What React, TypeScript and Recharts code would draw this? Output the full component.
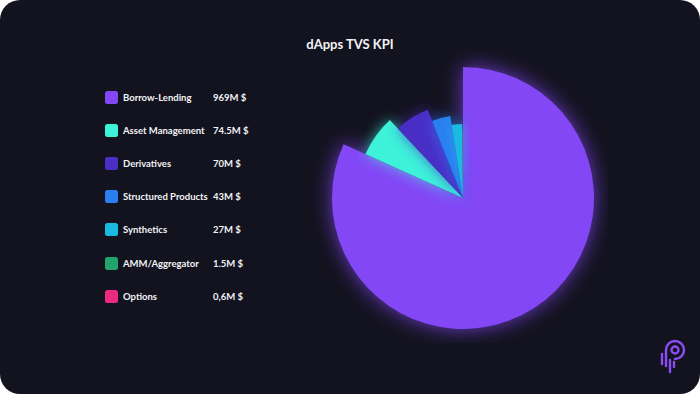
import React from "react";
import { PieChart, Pie, Cell, Sector } from "recharts";

const categories = [
  "Borrow-Lending",
  "Asset Management",
  "Derivatives",
  "Structured Products",
  "Synthetics",
  "AMM/Aggregator",
  "Options",
];
const tvs = [969, 74.5, 70, 43, 27, 1.5, 0.6];
const valueLabels = ["969M $", "74.5M $", "70M $", "43M $", "27M $", "1.5M $", "0,6M $"];

const COLORS = ["#8347f6", "#3cf2d9", "#4a2fc6", "#2a7ff1", "#1ab9e2", "#22a36c", "#ec2a80"];
// each slice is drawn a bit shorter than the previous one
const RADII = [131, 107, 95, 83, 74, 68, 64];

const data = categories.map((name, i) => ({ name, value: tvs[i] }));

const renderSlice = (props: any) => {
  const i = props.index ?? 0;
  return (
    <Sector
      {...props}
      innerRadius={0}
      outerRadius={RADII[i]}
      stroke="none"
      filter={i === 0 ? "url(#glowBig)" : "url(#glowSmall)"}
    />
  );
};

const Logo = () => (
  <svg width={34} height={40} viewBox="0 0 34 40" style={{ position: "absolute", left: 654, top: 336 }}>
    <g fill="none" stroke="#8a4cf5" strokeWidth={2.4} strokeLinecap="round">
      <path d="M12 30 V14 a9 9 0 1 1 9 9" />
      <circle cx={21} cy={14} r={3.5} />
      <line x1={8} y1={18} x2={8} y2={28} />
      <line x1={16} y1={24} x2={16} y2={36} />
      <line x1={20} y1={26} x2={20} y2={31} />
    </g>
  </svg>
);

export default function App() {
  return (
    <div style={{ position: "fixed", left: 0, top: 0, width: 700, height: 394, background: "#fff" }}>
      <svg width={0} height={0} style={{ position: "absolute" }}>
        <defs>
          <filter id="glowBig" x="-30%" y="-30%" width="160%" height="160%">
            <feGaussianBlur in="SourceGraphic" stdDeviation="10" result="b" />
            <feComponentTransfer in="b" result="bb">
              <feFuncA type="linear" slope="0.8" />
            </feComponentTransfer>
            <feMerge>
              <feMergeNode in="bb" />
              <feMergeNode in="SourceGraphic" />
            </feMerge>
          </filter>
          <filter id="glowSmall" x="-50%" y="-50%" width="200%" height="200%">
            <feGaussianBlur in="SourceGraphic" stdDeviation="7" result="b" />
            <feComponentTransfer in="b" result="bb">
              <feFuncA type="linear" slope="0.7" />
            </feComponentTransfer>
            <feMerge>
              <feMergeNode in="bb" />
              <feMergeNode in="SourceGraphic" />
            </feMerge>
          </filter>
        </defs>
      </svg>
      <div
        style={{
          position: "relative",
          width: 700,
          height: 394,
          background: "#13121f",
          borderRadius: 20,
          overflow: "hidden",
          fontFamily: "Lato, 'Noto Sans', sans-serif",
          color: "#f2f2f5",
        }}
      >
        <div
          style={{
            position: "absolute",
            top: 36,
            left: 0,
            width: 700,
            textAlign: "center",
            fontSize: 13,
            fontWeight: 700,
          }}
        >
          dApps TVS KPI
        </div>

        {categories.map((c, i) => (
          <div
            key={c}
            style={{
              position: "absolute",
              left: 105,
              top: 90 + i * 33.2,
              height: 14,
              display: "flex",
              alignItems: "center",
              fontSize: 9.5,
              fontWeight: 700,
            }}
          >
            <div
              style={{
                width: 13,
                height: 13,
                borderRadius: 2.5,
                background: COLORS[i],
                marginRight: 5,
                flex: "none",
              }}
            />
            <div style={{ width: 90 }}>{c}</div>
            <div>{valueLabels[i]}</div>
          </div>
        ))}

        <div style={{ position: "absolute", left: 308, top: 43 }}>
          <PieChart width={300} height={300}>
            <Pie
              data={data}
              dataKey="value"
              nameKey="name"
              cx={150}
              cy={150}
              innerRadius={0}
              outerRadius={131}
              startAngle={90}
              endAngle={-270}
              stroke="none"
              shape={renderSlice}
              isAnimationActive={false}
            >
              {data.map((d, i) => (
                <Cell key={d.name} fill={COLORS[i]} />
              ))}
            </Pie>
          </PieChart>
        </div>

        <Logo />
      </div>
    </div>
  );
}
